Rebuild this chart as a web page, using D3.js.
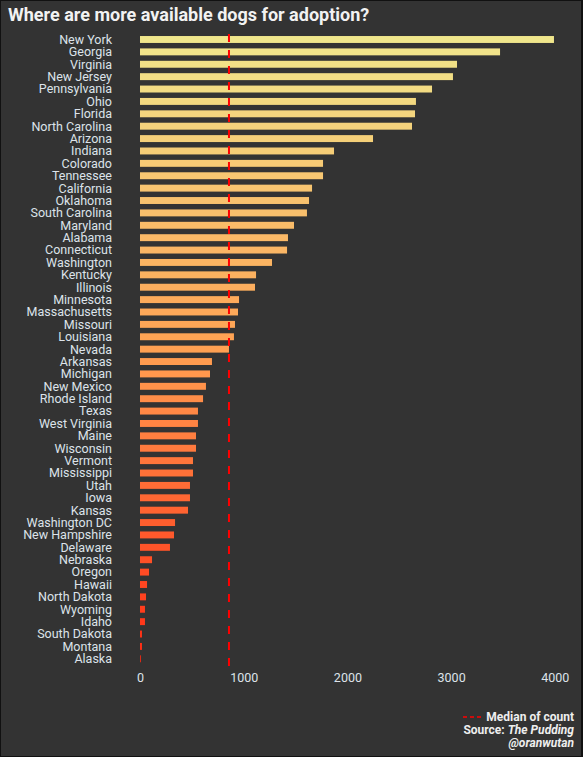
<!DOCTYPE html>
<html>
<head>
<meta charset="utf-8">
<script src="https://cdn.jsdelivr.net/npm/d3@7"></script>
<style>
  html, body { margin: 0; padding: 0; background: #333333; }
  svg { display: block; font-family: Roboto, "Noto Sans", sans-serif; }
</style>
</head>
<body>
<svg id="chart" width="583" height="757"></svg>
<script>
const states = ["New York","Georgia","Virginia","New Jersey","Pennsylvania","Ohio","Florida","North Carolina","Arizona","Indiana","Colorado","Tennessee","California","Oklahoma","South Carolina","Maryland","Alabama","Connecticut","Washington","Kentucky","Illinois","Minnesota","Massachusetts","Missouri","Louisiana","Nevada","Arkansas","Michigan","New Mexico","Rhode Island","Texas","West Virginia","Maine","Wisconsin","Vermont","Mississippi","Utah","Iowa","Kansas","Washington DC","New Hampshire","Delaware","Nebraska","Oregon","Hawaii","North Dakota","Wyoming","Idaho","South Dakota","Montana","Alaska"];
const counts = [3992,3472,3057,3018,2816,2661,2652,2623,2247,1871,1765,1765,1659,1630,1610,1485,1427,1418,1273,1119,1109,955,945,916,906,858,694,675,636,608,559,559,540,540,511,511,482,482,463,338,328,289,116,87,68,58,48,48,19,19,8];
const xTicks = [0,1000,2000,3000,4000];
const titleText = "Where are more available dogs for adoption?";

const svg = d3.select("#chart");
const W = 583, H = 757;

svg.append("rect").attr("x",0.5).attr("y",0.5).attr("width",W-1.5).attr("height",H-1)
  .attr("fill","#333333").attr("stroke","#111").attr("stroke-width",1);
svg.append("rect").attr("x",W-2).attr("y",0).attr("width",2).attr("height",H).attr("fill","#111");

const x = d3.scaleLinear().domain([0,4000]).range([140,554.8]);
const y = d3.scaleBand().domain(states).range([33.3,665]).paddingInner(0.44).paddingOuter(0.22);
const color = d3.scaleLinear().domain([0,(states.length-1)/2,states.length-1])
  .range(["#f0e68c","#ffa052","#ff2a12"]).interpolate(d3.interpolateRgb);

svg.append("text").attr("x",8).attr("y",21).attr("fill","#f2f2f2")
  .attr("font-size",18).attr("font-weight","bold").text(titleText);

svg.append("g").selectAll("rect").data(states).join("rect")
  .attr("x", x(0))
  .attr("y", d => y(d))
  .attr("height", y.bandwidth())
  .attr("width", (d,i) => Math.max(0, x(counts[i]) - x(0)))
  .attr("fill", (d,i) => color(i));

svg.append("g").selectAll("text").data(states).join("text")
  .attr("x",112).attr("y", d => y(d) + y.bandwidth()/2)
  .attr("dy","0.35em").attr("text-anchor","end")
  .attr("fill","#dde3ea").attr("font-size",12.5).text(d => d);

const med = d3.median(counts);
svg.append("line").attr("x1",x(med)).attr("x2",x(med)).attr("y1",34).attr("y2",666)
  .attr("stroke","#ff0000").attr("stroke-width",2).attr("stroke-dasharray","8,8");

const axis = d3.axisBottom(x).tickValues(xTicks).tickFormat(d3.format("d")).tickSize(0).tickPadding(0);
const gx = svg.append("g").attr("transform","translate(0,673)").call(axis);
gx.select(".domain").remove();
gx.selectAll("text").attr("fill","#dde3ea").attr("font-size",12.5).attr("font-family","Roboto, sans-serif");

// legend & caption
svg.append("line").attr("x1",463).attr("x2",484).attr("y1",717).attr("y2",717)
  .attr("stroke","#ff0000").attr("stroke-width",1.5).attr("stroke-dasharray","4,3");
svg.append("text").attr("x",574).attr("y",721).attr("text-anchor","end")
  .attr("fill","#eeeeee").attr("font-size",12).attr("font-weight","bold").text("Median of count");
const src = svg.append("text").attr("x",574).attr("y",734).attr("text-anchor","end")
  .attr("fill","#eeeeee").attr("font-size",12).attr("font-weight","bold");
src.append("tspan").text("Source: ");
src.append("tspan").attr("font-style","italic").text("The Pudding");
svg.append("text").attr("x",574).attr("y",747).attr("text-anchor","end")
  .attr("fill","#eeeeee").attr("font-size",12).attr("font-weight","bold").attr("font-style","italic").text("@oranwutan");
</script>
</body>
</html>
